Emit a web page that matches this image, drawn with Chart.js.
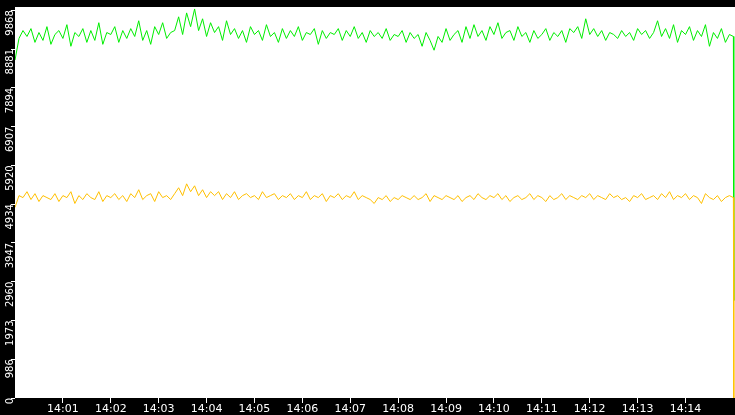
<!DOCTYPE html>
<html><head><meta charset="utf-8">
<script src="https://cdn.jsdelivr.net/npm/chart.js@4/dist/chart.umd.min.js"></script>
<style>html,body{margin:0;padding:0;background:#000}#wrap{width:735px;height:415px}</style>
</head><body><div id="wrap"><canvas id="c"></canvas></div>
<script>
const yTicks = [0, 986, 1973, 2960, 3947, 4934, 5920, 6907, 7894, 8881, 9868];
const xTickLabels = ['14:01','14:02','14:03','14:04','14:05','14:06','14:07','14:08','14:09','14:10','14:11','14:12','14:13','14:14'];
const stepSec = 5;

const green = [
  8600, 9150, 9350, 9200, 9400, 9050, 9300, 9100, 9450, 9000,
  9250, 9350, 9150, 9500, 8950, 9300, 9200, 9400, 9050, 9350,
  9100, 9550, 9000, 9300, 9250, 9450, 9050, 9350, 9150, 9400,
  9200, 9600, 9100, 9350, 9000, 9450, 9250, 9550, 9150, 9300,
  9350, 9700, 9250, 9800, 9450, 9900, 9350, 9650, 9200, 9550,
  9300, 9450, 9100, 9600, 9250, 9400, 9150, 9350, 9050, 9450,
  9250, 9350, 9100, 9500, 9200, 9300, 9050, 9400, 9150, 9350,
  9200, 9450, 9100, 9300, 9250, 9400, 9000, 9350, 9150, 9300,
  9250, 9400, 9100, 9350, 9200, 9450, 9150, 9300, 9050, 9350,
  9200, 9300, 9150, 9400, 9100, 9250, 9200, 9350, 9050, 9300,
  9150, 9250, 8950, 9300, 9100, 8850, 9200, 9050, 9400, 9100,
  9250, 9350, 9050, 9450, 9150, 9500, 9200, 9350, 9100, 9450,
  9250, 9550, 9150, 9300, 9350, 9100, 9450, 9200, 9300, 9050,
  9350, 9150, 9250, 9400, 9100, 9300, 9200, 9350, 9050, 9400,
  9300, 9450, 9150, 9650, 9250, 9400, 9200, 9350, 9100, 9300,
  9250, 9150, 9350, 9200, 9300, 9100, 9400, 9250, 9350, 9150,
  9300, 9600, 9200, 9400, 9150, 9500, 9050, 9350, 9250, 9450,
  9100, 9350, 9200, 9500, 8950, 9300, 9150, 9400, 9050, 9250,
  9200, 2480
];
const yellow = [
  4850, 5150, 5100, 5250, 5050, 5200, 5000, 5150, 5100, 5050,
  5200, 5000, 5150, 5100, 5250, 4950, 5150, 5050, 5200, 5100,
  5050, 5250, 5000, 5150, 5100, 5200, 5050, 5150, 5000, 5200,
  5100, 5300, 5050, 5150, 5200, 5000, 5250, 5100, 5150, 5050,
  5200, 5350, 5150, 5450, 5250, 5400, 5150, 5300, 5100, 5250,
  5150, 5250, 5050, 5200, 5100, 5250, 5050, 5150, 5200, 5100,
  5150, 5050, 5250, 5100, 5150, 5200, 5050, 5150, 5100, 5200,
  5050, 5150, 5100, 5250, 5050, 5150, 5100, 5200, 5000, 5150,
  5100, 5200, 5050, 5150, 5100, 5250, 5050, 5150, 5100, 5050,
  4950, 5100, 5050, 5150, 5000, 5100, 5050, 5150, 5100, 5050,
  5150, 5050, 5100, 5200, 5000, 5150, 5100, 5050, 5150, 5100,
  5050, 5150, 5000, 5100, 5150, 5050, 5200, 5100, 5050, 5150,
  5100, 5200, 5050, 5150, 5000, 5100, 5150, 5050, 5100, 5200,
  5050, 5150, 5100, 5000, 5150, 5050, 5100, 5200, 5050, 5150,
  5100, 5050, 5150, 5100, 5200, 5050, 5150, 5100, 5050, 5200,
  5100, 5150, 5050, 5100, 5000, 5150, 5100, 5200, 5050, 5100,
  5150, 5050, 5200, 5100, 5250, 5050, 5150, 5100, 5200, 5050,
  5150, 5100, 4950, 5200, 5100, 5050, 5150, 5000, 5100, 5150,
  5100, 0
];

// last sample is the drop to the end value, right after the previous one
const toPoints = arr => arr.map((v, i) => ({
  x: i === arr.length - 1 ? (i - 1) * stepSec + 0.5 : i * stepSec,
  y: v
}));

// white plot area, black margins
const bgPlugin = {
  id: 'bg',
  beforeDraw(chart) {
    const { ctx, chartArea: a } = chart;
    ctx.save();
    ctx.fillStyle = '#000';
    ctx.fillRect(0, 0, chart.width, chart.height);
    ctx.fillStyle = '#fff';
    ctx.fillRect(a.left, a.top, a.right - a.left, a.bottom - a.top);
    ctx.restore();
  }
};

new Chart(document.getElementById('c'), {
  type: 'line',
  data: {
    datasets: [
      { data: toPoints(yellow), borderColor: '#ffc000', borderWidth: 1, pointRadius: 0, tension: 0 },
      { data: toPoints(green), borderColor: '#00ee00', borderWidth: 1, pointRadius: 0, tension: 0 }
    ]
  },
  options: {
    responsive: true,
    maintainAspectRatio: false,
    animation: false,
    layout: { padding: { top: -7, right: 0, left: 0, bottom: 0 } },
    plugins: { legend: { display: false }, tooltip: { enabled: false } },
    scales: {
      x: {
        type: 'linear',
        min: 0, max: 902,
        afterFit(s) { s.height = 17; },
        afterBuildTicks(s) { s.ticks = xTickLabels.map((_, i) => ({ value: (i + 1) * 60 })); },
        ticks: {
          color: '#fff', font: { family: 'DejaVu Sans', size: 11 }, padding: 0,
          maxRotation: 0, autoSkip: false,
          callback: (v) => xTickLabels[v / 60 - 1]
        },
        grid: { drawOnChartArea: false, color: '#fff', tickLength: 5 },
        border: { display: false }
      },
      y: {
        min: 0, max: 9950,
        afterFit(s) { s.width = 15; },
        afterBuildTicks(s) { s.ticks = yTicks.map((v, i) => ({ value: i * 986.8 })); },
        ticks: {
          color: '#fff', font: { family: 'DejaVu Sans', size: 10 }, padding: 1,
          minRotation: 90, maxRotation: 90, autoSkip: false,
          callback: (v, i) => yTicks[i]
        },
        grid: { drawOnChartArea: false, color: '#fff', tickLength: 4 },
        border: { display: false }
      }
    }
  },
  plugins: [bgPlugin]
});
</script></body></html>
